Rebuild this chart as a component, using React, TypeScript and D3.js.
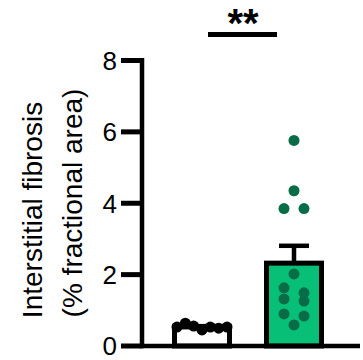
import React from 'react';
import * as d3 from 'd3';

// groups and individual values (% fractional area)
const groups = ['Control', 'Treated'];
const controlValues = [0.53, 0.64, 0.56, 0.45, 0.53, 0.5, 0.53];
const treatedValues = [5.76, 4.35, 3.85, 3.85, 2.02, 1.63, 1.49, 1.32, 1.26, 0.9, 0.84, 0.59];
const yTicks = [0, 2, 4, 6, 8];
const significance = '**';

const W = 363;
const H = 360;
const GREEN = '#08bf77';
const DOT_GREEN = '#086d47';

// simple row-binned scatter, like the column plots in Prism
function swarm(vals: number[], y: (v: number) => number, rowH = 12, maxSpread = 50, step = 20) {
  const bins = new Map<number, number[]>();
  vals.forEach((v, i) => {
    const k = Math.floor((y(0) - y(v)) / rowH);
    if (!bins.has(k)) bins.set(k, []);
    bins.get(k)!.push(i);
  });
  const offs = new Array(vals.length).fill(0);
  bins.forEach(idx => {
    const n = idx.length;
    if (n < 2) return;
    const s = Math.min(step, maxSpread / (n - 1));
    idx.forEach((i, j) => { offs[i] = (j - (n - 1) / 2) * s; });
  });
  return offs;
}

const App = () => {
  const y = d3.scaleLinear().domain([0, 8]).range([346, 60.5]);
  const x = d3.scalePoint<string>().domain(groups).range([202, 294]);
  const barW = 55;
  const axisX = 142;

  const series = [
    { name: groups[0], vals: controlValues, fill: '#ffffff', dot: '#000000' },
    { name: groups[1], vals: treatedValues, fill: GREEN, dot: DOT_GREEN },
  ].map(s => {
    const mean = d3.mean(s.vals) as number;
    const sem = (d3.deviation(s.vals) as number) / Math.sqrt(s.vals.length);
    return { ...s, mean, sem, offs: swarm(s.vals, y) };
  });

  return (
    <svg width={W} height={H} style={{ position: 'absolute', left: 0, top: 0, background: '#fff' }}
      fontFamily="'Liberation Sans', Arial, sans-serif">
      {/* y axis title */}
      <g fontSize={28} textAnchor="middle" fill="#000">
        <text transform="translate(42, 210) rotate(-90)">Interstitial fibrosis</text>
        <text transform="translate(82, 203) rotate(-90)">(% fractional area)</text>
      </g>

      {/* bars */}
      {series.map(s => (
        <rect key={s.name} x={(x(s.name) as number) - barW / 2} y={y(s.mean)}
          width={barW} height={y(0) - y(s.mean)} fill={s.fill} stroke="#000" strokeWidth={5} />
      ))}

      {/* error bars (upper only) */}
      {series.map(s => {
        const cx = x(s.name) as number;
        return (
          <g key={s.name + '-err'} stroke="#000" strokeWidth={4.5}>
            <line x1={cx} x2={cx} y1={y(s.mean)} y2={y(s.mean + s.sem)} />
            <line x1={cx - 15} x2={cx + 15} y1={y(s.mean + s.sem)} y2={y(s.mean + s.sem)} />
          </g>
        );
      })}

      {/* individual points */}
      {series.map(s => (
        <g key={s.name + '-pts'} fill={s.dot}>
          {s.vals.map((v, i) => (
            <circle key={i} cx={(x(s.name) as number) + s.offs[i]} cy={y(v)} r={5.5} />
          ))}
        </g>
      ))}

      {/* axes */}
      <line x1={axisX} x2={360} y1={y(0)} y2={y(0)} stroke="#000" strokeWidth={4.5} />
      <line x1={axisX} x2={axisX} y1={y(0) + 2.25} y2={y(8) - 2.5} stroke="#000" strokeWidth={4.5} />
      {yTicks.map(t => (
        <g key={t}>
          <line x1={121} x2={axisX} y1={y(t)} y2={y(t)} stroke="#000" strokeWidth={5} />
          <text x={117} y={y(t)} dy="0.36em" textAnchor="end" fontSize={26}>{t}</text>
        </g>
      ))}

      {/* significance */}
      <line x1={208} x2={277} y1={34.5} y2={34.5} stroke="#000" strokeWidth={5} />
      <text x={243} y={37} textAnchor="middle" fontSize={40} fontWeight="bold">{significance}</text>
    </svg>
  );
};

export default App;
